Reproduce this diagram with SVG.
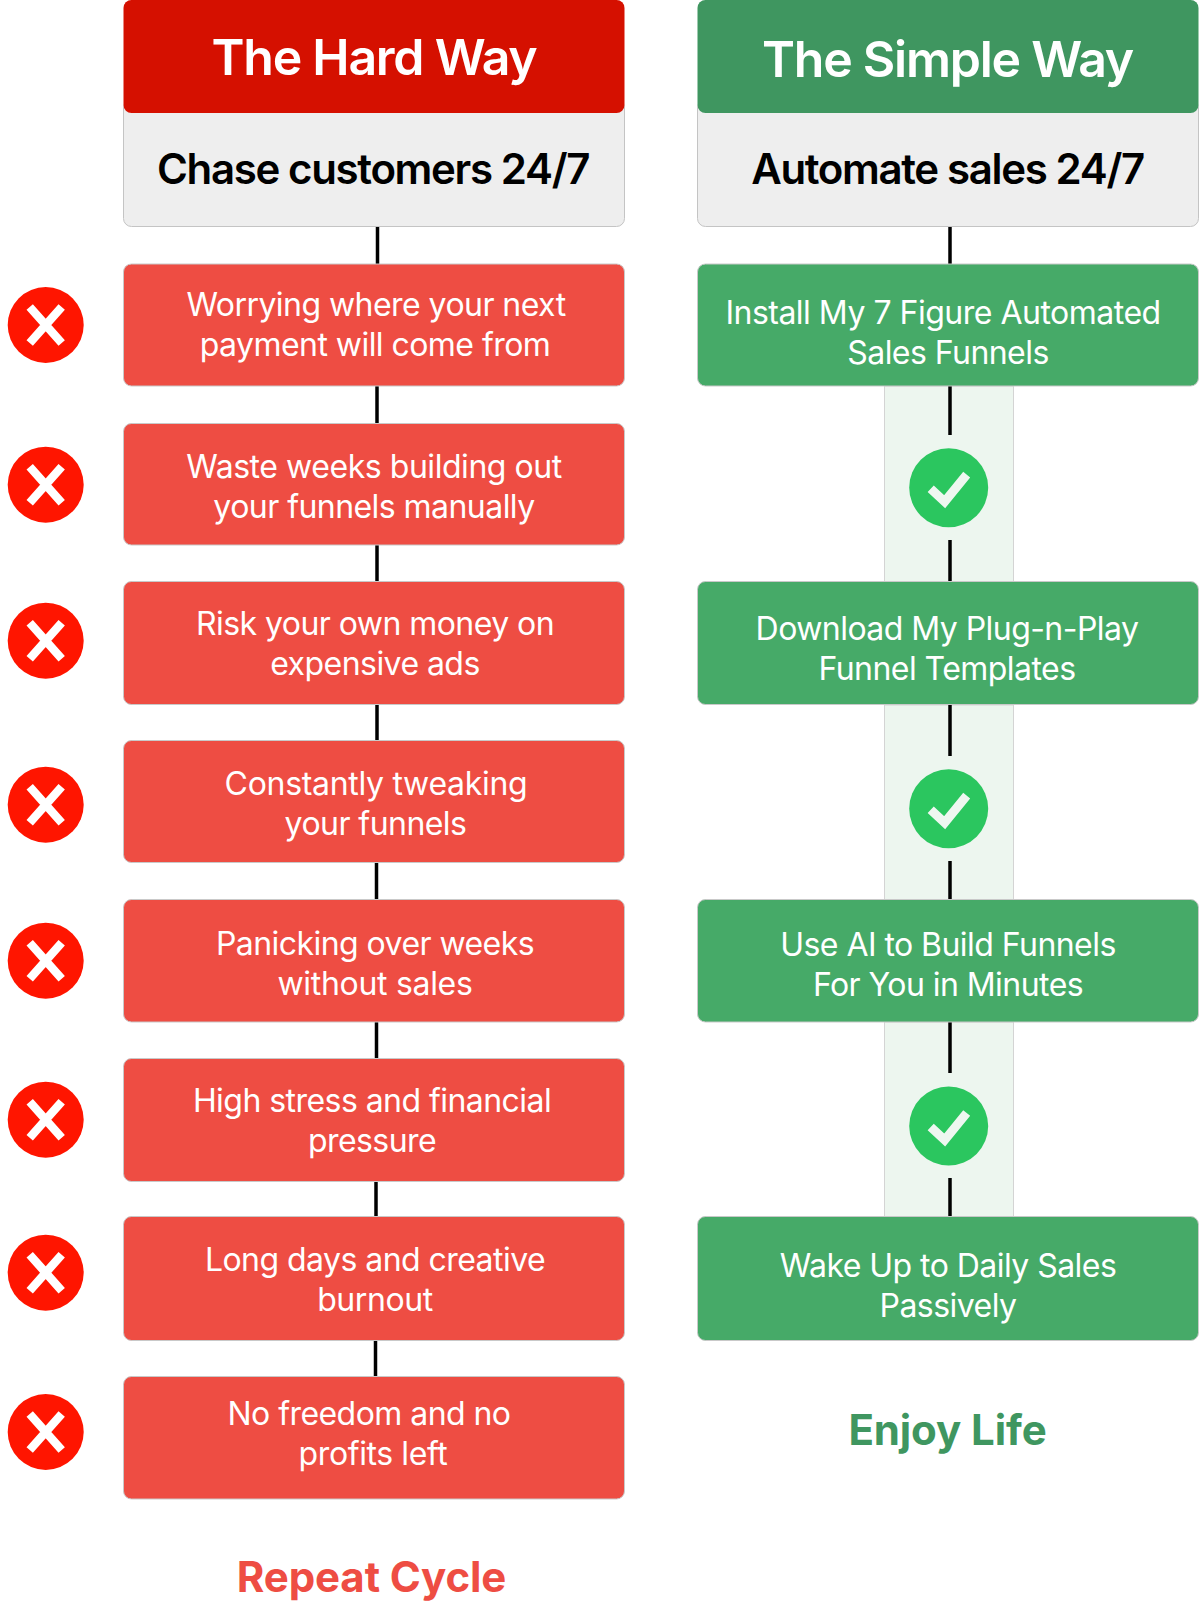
<svg xmlns="http://www.w3.org/2000/svg" width="1200" height="1601" viewBox="0 0 1200 1601">
<style>
text{font-family:Inter,"Liberation Sans",sans-serif;text-anchor:middle}
.h{font-size:50px;font-weight:600;fill:#fff;letter-spacing:-1.25px}
.s{font-size:42px;font-weight:600;fill:#000;letter-spacing:-1.35px}
.t{font-size:32px;font-weight:400;fill:#fff;letter-spacing:-.55px}
.r{fill:#ee4d43;stroke:#c9c9c9;stroke-width:1}
.g{fill:#46aa68;stroke:#c9c9c9;stroke-width:1}
.gray{fill:#eee;stroke:#c4c4c4;stroke-width:1}
.e{font-size:42px;font-weight:700;letter-spacing:-.1px}
.c line{stroke:#000;stroke-width:3.5}
.x{fill:#ff1500}
.xm{stroke:#fff;stroke-width:8.5;fill:none}
.ck{fill:#2bc65f}
.cm{stroke:#eef7f0;stroke-width:9;fill:none}
.band{fill:#edf6ef;stroke:#d4d4d4;stroke-width:1}
</style>
<defs>
<g id="xi"><circle class="x" r="38"/><path class="xm" d="M-16-18 16 18M16-18-16 18"/></g>
<g id="ci"><circle class="ck" r="39.5"/><path class="cm" d="M-18 1-4 14 18-13"/></g>
</defs>
<rect width="1200" height="1601" fill="#fff"/>
<g id="bands">
<rect class="band" x="884.500" y="386" width="129" height="196"/>
<rect class="band" x="884.500" y="705" width="129" height="195"/>
<rect class="band" x="884.500" y="1022" width="129" height="195"/>
</g>
<g id="connectors" class="c">
<line x1="377.500" y1="227" x2="377.500" y2="265"/>
<line x1="377" y1="386" x2="377" y2="424"/>
<line x1="377" y1="545" x2="377" y2="582"/>
<line x1="377" y1="705" x2="377" y2="741"/>
<line x1="376.500" y1="863" x2="376.500" y2="900"/>
<line x1="376.500" y1="1022" x2="376.500" y2="1059"/>
<line x1="376" y1="1182" x2="376" y2="1217"/>
<line x1="375.500" y1="1341" x2="375.500" y2="1377"/>
<line x1="950" y1="227" x2="950" y2="265"/>
<line x1="950" y1="386" x2="950" y2="435"/>
<line x1="950" y1="540" x2="950" y2="582"/>
<line x1="950" y1="705" x2="950" y2="756"/>
<line x1="950" y1="861" x2="950" y2="900"/>
<line x1="950" y1="1022" x2="950" y2="1073"/>
<line x1="950" y1="1178" x2="950" y2="1217"/>
</g>
<g id="hard-sub"><rect class="gray" x="123.500" y="100" width="501" height="126.500" rx="8"/><text class="s" x="373" y="184">Chase customers 24/7</text></g>
<g id="hard-head"><rect x="123.500" y="0" width="501" height="113" rx="8" fill="#d51000"/><text class="h" x="374" y="75">The Hard Way</text></g>
<g id="simple-sub"><rect class="gray" x="697.500" y="100" width="501" height="126.500" rx="8"/><text class="s" x="947.500" y="184">Automate sales 24/7</text></g>
<g id="simple-head"><rect x="697.500" y="0" width="501" height="113" rx="8" fill="#3f9660"/><text class="h" x="947.500" y="77">The Simple Way</text></g>
<g id="h1"><rect class="r" x="123.500" y="264" width="501" height="122" rx="8"/><text class="t" x="376" y="316">Worrying where your next</text><text class="t" x="375" y="356">payment will come from</text></g>
<g id="h2"><rect class="r" x="123.500" y="423.500" width="501" height="121.500" rx="8"/><text class="t" x="374" y="478" style="letter-spacing:-.45px">Waste weeks building out</text><text class="t" x="374" y="518">your funnels manually</text></g>
<g id="h3"><rect class="r" x="123.500" y="581.500" width="501" height="123" rx="8"/><text class="t" x="375" y="635">Risk your own money on</text><text class="t" x="375" y="675">expensive ads</text></g>
<g id="h4"><rect class="r" x="123.500" y="740.500" width="501" height="122" rx="8"/><text class="t" x="376" y="795" style="letter-spacing:-.3px">Constantly tweaking</text><text class="t" x="375.500" y="835">your funnels</text></g>
<g id="h5"><rect class="r" x="123.500" y="899.500" width="501" height="122.500" rx="8"/><text class="t" x="375" y="955">Panicking over weeks</text><text class="t" x="375" y="995" style="letter-spacing:-.3px">without sales</text></g>
<g id="h6"><rect class="r" x="123.500" y="1058.500" width="501" height="123" rx="8"/><text class="t" x="372" y="1112">High stress and financial</text><text class="t" x="372" y="1152">pressure</text></g>
<g id="h7"><rect class="r" x="123.500" y="1216.500" width="501" height="124" rx="8"/><text class="t" x="375" y="1271">Long days and creative</text><text class="t" x="375" y="1311" style="letter-spacing:-.4px">burnout</text></g>
<g id="h8"><rect class="r" x="123.500" y="1376.500" width="501" height="122.500" rx="8"/><text class="t" x="369" y="1425">No freedom and no</text><text class="t" x="373" y="1465" style="letter-spacing:-.4px">profits left</text></g>
<g id="s1"><rect class="g" x="697.500" y="264" width="501" height="122" rx="8"/><text class="t" x="943" y="323.500" style="letter-spacing:-.5px">Install My 7 Figure Automated</text><text class="t" x="948" y="363.500">Sales Funnels</text></g>
<g id="s2"><rect class="g" x="697.500" y="581.500" width="501" height="123" rx="8"/><text class="t" x="947" y="640">Download My Plug-n-Play</text><text class="t" x="947" y="680">Funnel Templates</text></g>
<g id="s3"><rect class="g" x="697.500" y="899.500" width="501" height="122.500" rx="8"/><text class="t" x="948" y="956">Use AI to Build Funnels</text><text class="t" x="948" y="996">For You in Minutes</text></g>
<g id="s4"><rect class="g" x="697.500" y="1216.500" width="501" height="124" rx="8"/><text class="t" x="948" y="1276.500">Wake Up to Daily Sales</text><text class="t" x="948" y="1316.500">Passively</text></g>
<g id="x1"><use href="#xi" x="45.700" y="325"/></g>
<g id="x2"><use href="#xi" x="45.700" y="484.700"/></g>
<g id="x3"><use href="#xi" x="45.700" y="640.700"/></g>
<g id="x4"><use href="#xi" x="45.700" y="804.700"/></g>
<g id="x5"><use href="#xi" x="45.700" y="960.700"/></g>
<g id="x6"><use href="#xi" x="45.700" y="1119.700"/></g>
<g id="x7"><use href="#xi" x="45.700" y="1272.700"/></g>
<g id="x8"><use href="#xi" x="45.700" y="1432"/></g>
<g id="c1"><use href="#ci" x="948.700" y="487.700"/></g>
<g id="c2"><use href="#ci" x="948.700" y="808.700"/></g>
<g id="c3"><use href="#ci" x="948.700" y="1126"/></g>
<g id="enjoy"><text class="e" x="947.500" y="1445" fill="#3f9660">Enjoy Life</text></g>
<g id="repeat"><text class="e" x="371.500" y="1592" fill="#ee4d43">Repeat Cycle</text></g>
</svg>
